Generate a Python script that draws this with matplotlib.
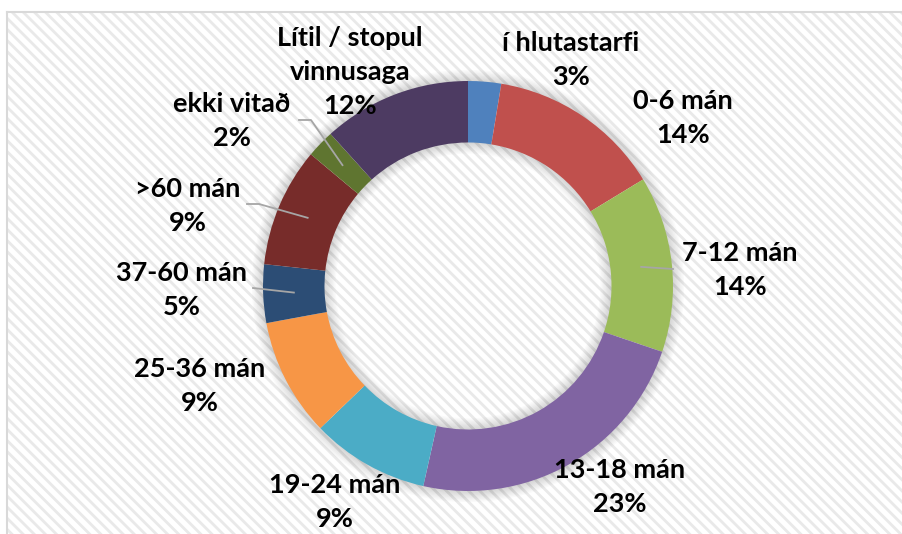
import matplotlib
matplotlib.use('Agg')
import matplotlib.pyplot as plt
from matplotlib.patches import Rectangle, Circle
import numpy as np

categories = ['í hlutastarfi', '0-6 mán', '7-12 mán', '13-18 mán', '19-24 mán',
              '25-36 mán', '37-60 mán', '>60 mán', 'ekki vitað',
              'Lítil / stopul\nvinnusaga']
values = [2.6, 13.7, 13.9, 23.3, 9.3, 9.3, 4.6, 9.4, 2.2, 11.7]
colors = ['#4F81BD', '#C0504D', '#9BBB59', '#8064A2', '#4BACC6',
          '#F79646', '#2C4D75', '#772C2A', '#5F7530', '#4D3B62']

# layout (pixel coordinates, y from top)
label_pos = [(571, 60), (683, 118), (740, 270), (620, 487), (335, 502),
             (200, 386), (182, 290), (188, 206), (232, 121), (350, 72)]
# leader line start points (label side), None = no leader
leader_start = [None, None, [(673, 269)], None, None, None,
                [(253, 288)], [(247, 204), (259, 204)],
                [(299, 120), (311, 120)], None]

W, H = 902, 534
matplotlib.rcParams['hatch.linewidth'] = 2.0
fig = plt.figure(figsize=(W / 100, H / 100), dpi=100)
ax = fig.add_axes([0, 0, 1, 1])

cx, cy = 468, H - 286
R = 205
ring = 0.30

# background: striped chart area with light border
bg = Rectangle((6.5, -5), W, H - 11.5 + 5, facecolor='white', edgecolor='#E9E9E9',
               hatch='\\\\\\', linewidth=0, zorder=0)
ax.add_patch(bg)
ax.plot([6.5, 6.5], [-5, H - 11.5], color='#D9D9D9', lw=1.5, zorder=1)
ax.plot([6.5, W + 5], [H - 11.5, H - 11.5], color='#D9D9D9', lw=1.5, zorder=1)

# soft shadow around ring
for lw in range(2, 18, 2):
    ax.add_patch(Circle((cx, cy), R, fill=False, lw=lw, color='k', alpha=0.018, zorder=2))
    ax.add_patch(Circle((cx, cy), R * (1 - ring), fill=False, lw=lw, color='k', alpha=0.018, zorder=2))

wedges, _ = ax.pie(values, colors=colors, startangle=90, counterclock=False,
                   radius=R, center=(cx, cy),
                   wedgeprops=dict(width=R * ring, linewidth=0, zorder=3),
                   frame=False)
for w in wedges:
    w.set_zorder(3)

ax.set_xlim(0, W)
ax.set_ylim(0, H)
ax.set_aspect('auto')
ax.axis('off')

total = sum(values)
cum = np.cumsum([0] + values)
for i, (cat, v) in enumerate(zip(categories, values)):
    lx, ly = label_pos[i]
    txt = f"{cat}\n{round(v / total * 100):.0f}%"
    ax.text(lx, H - ly, txt, ha='center', va='center', fontsize=19.5,
            fontweight='bold', family=['Lato', 'DejaVu Sans'], color='black',
            linespacing=1.5, zorder=6)
    if leader_start[i] is not None:
        mid = (cum[i] + v / 2) / total * 2 * np.pi
        ex = cx + 0.85 * R * np.sin(mid)
        ey = cy + 0.85 * R * np.cos(mid)
        pts = leader_start[i]
        xs = [p[0] for p in pts] + [ex]
        ys = [H - p[1] for p in pts] + [ey]
        ax.plot(xs, ys, color='#A6A6A6', lw=1.3, zorder=5)

fig.savefig('out.png', dpi=100)
